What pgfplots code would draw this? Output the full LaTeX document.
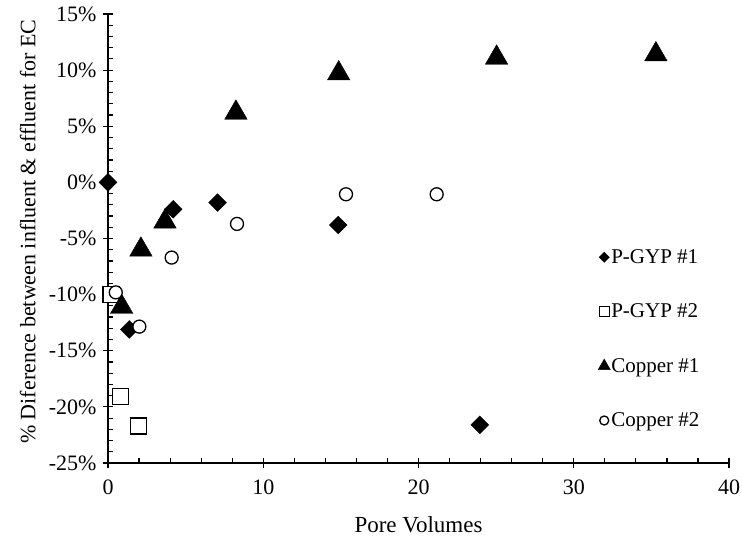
\documentclass[border=0pt]{standalone}
\usepackage{pgfplots}
\pgfplotsset{compat=1.18}
\usepackage{fontspec}
\setmainfont{Liberation Serif}

\begin{document}
\begin{tikzpicture}
\begin{axis}[
    name=ax,
    scale only axis,
    width=621pt, height=449pt,
    xmin=0, xmax=40,
    ymin=-25, ymax=15,
    xtick={0,10,...,40},
    ytick={-25,-20,...,15},
    minor x tick num=4,
    minor y tick num=4,
    axis lines*=left,
    axis line style={line width=1.4pt},
    tick style={black, line width=1.2pt},
    tick align=center,
    major tick length=10pt,
    minor tick length=5pt,
    minor x tick style={yshift=2.5pt},
    minor y tick style={xshift=2.5pt},
    tick label style={font=\fontsize{22}{26}\selectfont},
    /pgf/number format/assume math mode=true,
    yticklabel={\pgfmathprintnumber{\tick}\%},
    xticklabel style={yshift=-8pt},
    yticklabel style={xshift=-3pt},
    xlabel={Pore Volumes},
    ylabel={\% Diference between influent \& effluent for EC},
    every axis x label/.style={at={(axis description cs:0.5,-0.138)}, anchor=center,
        font=\fontsize{23}{27}\selectfont},
    every axis y label/.style={at={(axis description cs:-0.129,0.515)}, rotate=90, anchor=center,
        font=\fontsize{22}{26}\selectfont},
    legend style={
        at={(0.789,0.478)}, anchor=north west,
        draw=none, fill=none,
        row sep=37pt,
        inner sep=0pt,
        nodes={inner sep=1pt},
        font=\fontsize{21}{25}\selectfont,
        legend cell align=left,
    },
    legend image code/.code={\draw[#1] plot coordinates {(0pt,0pt)};},
]

% P-GYP #1
\addplot[only marks, mark=square*, mark size=6.3pt, mark options={rotate=45, fill=black, draw=black},
    legend image post style={mark size=3.6pt}] coordinates {
    (0.0, 0.0) (1.37, -13.1) (4.2, -2.4) (7.06, -1.8) (14.83, -3.8) (23.95, -21.6)
};
\addlegendentry{P-GYP \#1}

% P-GYP #2
\addplot[only marks, mark=square*, mark size=8pt, mark options={fill=white, draw=black, line width=1.3pt},
    legend image post style={mark size=5pt, line width=1pt}] coordinates {
    (0.19, -10.0) (0.82, -19.1) (1.95, -21.7)
};
\addlegendentry{P-GYP \#2}

% Copper #1
\addplot[only marks, mark=triangle*, mark size=13pt, mark options={fill=black, draw=black},
    legend image post style={mark size=7pt}] coordinates {
    (0.88, -11.1) (2.12, -6.0) (3.67, -3.5) (8.24, 6.2) (14.86, 9.7) (25.03, 11.1) (35.29, 11.4)
};
\addlegendentry{Copper \#1}

% Copper #2
\addplot[only marks, mark=*, mark size=6.5pt, mark options={fill=white, draw=black, line width=1.3pt},
    legend image post style={mark size=4.5pt, line width=1pt}] coordinates {
    (0.5, -9.8) (2.02, -12.85) (4.1, -6.7) (8.31, -3.7) (15.33, -1.06) (21.17, -1.06)
};
\addlegendentry{Copper \#2}

\coordinate (sw) at (rel axis cs:0,0);
\coordinate (ne) at (rel axis cs:1,1);
\end{axis}
\pgfresetboundingbox
\path[use as bounding box] ([xshift=-108pt,yshift=-80pt]sw) rectangle ([xshift=13pt,yshift=14pt]ne);
\end{tikzpicture}
\end{document}
